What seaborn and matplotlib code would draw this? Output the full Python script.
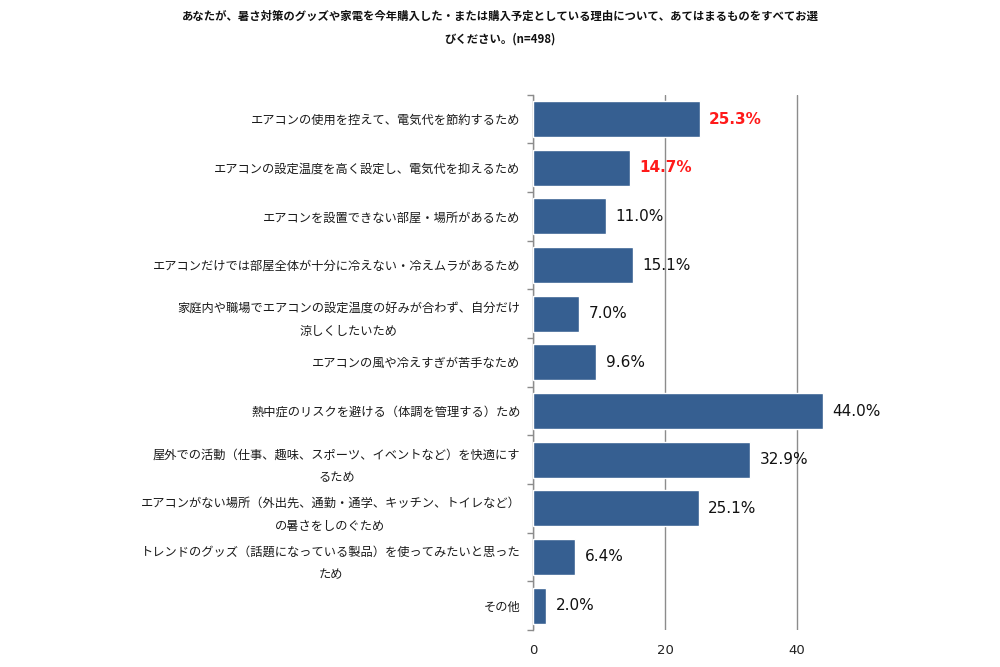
import pandas as pd
import matplotlib.pyplot as plt
import seaborn as sns

categories = [
    'エアコンの使用を控えて、電気代を節約するため',
    'エアコンの設定温度を高く設定し、電気代を抑えるため',
    'エアコンを設置できない部屋・場所があるため',
    'エアコンだけでは部屋全体が十分に冷えない・冷えムラがあるため',
    '家庭内や職場でエアコンの設定温度の好みが合わず、自分だけ\n涼しくしたいため',
    'エアコンの風や冷えすぎが苦手なため',
    '熱中症のリスクを避ける（体調を管理する）ため',
    '屋外での活動（仕事、趣味、スポーツ、イベントなど）を快適にす\nるため',
    'エアコンがない場所（外出先、通勤・通学、キッチン、トイレなど）\nの暑さをしのぐため',
    'トレンドのグッズ（話題になっている製品）を使ってみたいと思った\nため',
    'その他',
]
values = [25.3, 14.7, 11.0, 15.1, 7.0, 9.6, 44.0, 32.9, 25.1, 6.4, 2.0]
highlight = [True, True, False, False, False, False, False, False, False, False, False]

title = ('あなたが、暑さ対策のグッズや家電を今年購入した・または購入予定としている理由について、あてはまるものをすべてお選\n'
         'びください。(n=498)')

df = pd.DataFrame({'reason': categories, 'pct': values})

sns.set_theme(style='white')
plt.rcParams['font.family'] = ['Noto Sans CJK JP', 'DejaVu Sans']

fig = plt.figure(figsize=(10, 6.67), dpi=100)
ax = fig.add_axes([0.533, 0.0555, 0.33, 0.8025])

sns.barplot(data=df, x='pct', y='reason', color='#365F91', width=0.74,
            saturation=1, ax=ax, zorder=3)

ax.set_xlim(0, 50)
ax.set_xticks([0, 20, 40])
ax.xaxis.grid(True, color='#8c8c8c', linewidth=1, zorder=0)
ax.set_xlabel('')
ax.set_ylabel('')
for s in ['top', 'right', 'bottom']:
    ax.spines[s].set_visible(False)
ax.spines['left'].set_color('#8c8c8c')
ax.spines['left'].set_linewidth(1)

# category separator ticks on the left axis
ax.set_yticks([i - 0.5 for i in range(len(categories) + 1)], minor=True)
ax.tick_params(axis='y', which='minor', left=True, length=4, color='#8c8c8c', width=1)
ax.tick_params(axis='y', which='major', left=False, pad=3, labelsize=8.8, colors='#1a1a1a')
ax.tick_params(axis='x', length=0, labelsize=9.5, colors='#222222', pad=10)
for lbl in ax.get_yticklabels():
    lbl.set_multialignment('center')
    lbl.set_linespacing(2.0)
for lbl in ax.get_xticklabels():
    lbl.set_family('DejaVu Sans')

for i, (v, h) in enumerate(zip(values, highlight)):
    if h:
        ax.text(v + 1.4, i, f'{v:.1f}%', va='center', ha='left', fontsize=11,
                color='#ff1a1a', fontweight='bold', family='DejaVu Sans')
    else:
        ax.text(v + 1.4, i, f'{v:.1f}%', va='center', ha='left', fontsize=11,
                color='#111111', family='DejaVu Sans')

fig.text(0.5, 0.959, title, ha='center', va='center', fontsize=8.2,
         fontweight='bold', color='#111111', linespacing=2.0)

fig.savefig('out.png', dpi=100, facecolor='white')
